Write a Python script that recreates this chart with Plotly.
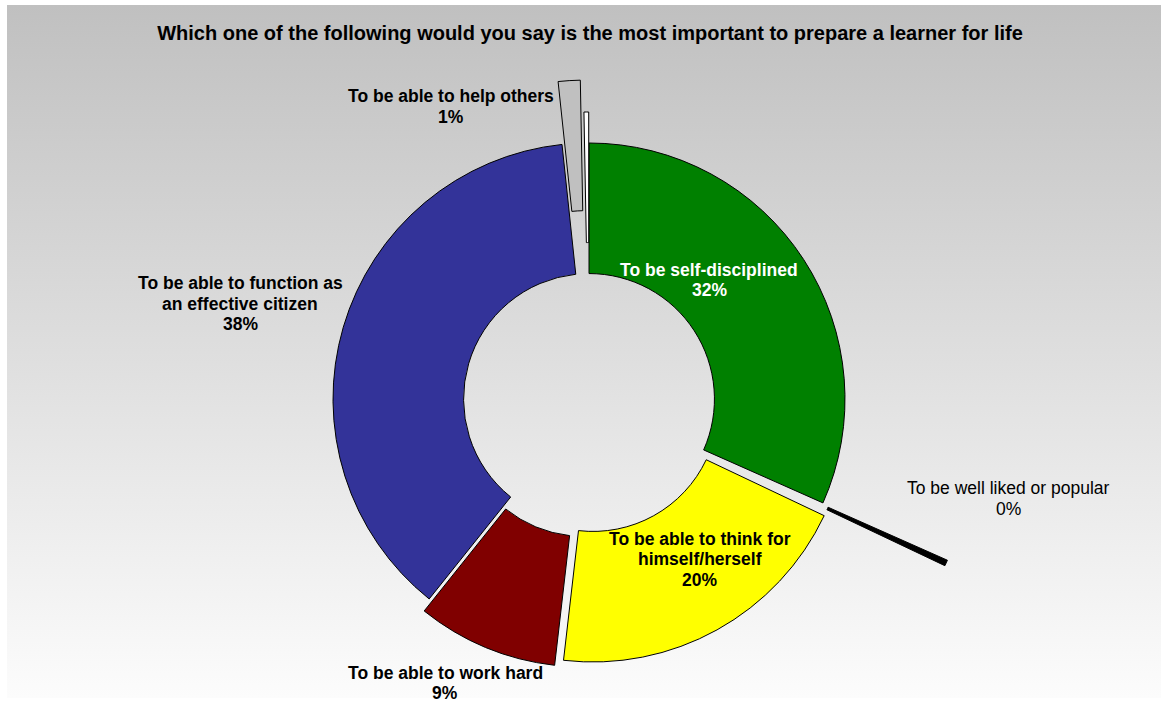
import math
import plotly.graph_objects as go

# Survey answers, clockwise from 12 o'clock
categories = [
    "To be self-disciplined",
    "To be well liked or popular",
    "To be able to think for\nhimself/herself",
    "To be able to work hard",
    "To be able to function as\nan effective citizen",
    "To be able to help others",
    "Other",
]
shares = [32, 0.4, 20, 9, 38, 1.4, 0.3]
show_label = [True, True, True, True, True, True, False]

# Styling
colors = ["#008000", "#000000", "#FFFF00", "#800000", "#333399", "#C0C0C0", "#FFFFFF"]
explode_px = [0, 137, 8, 13, 0, 63, 31]          # how far each slice is pulled out
label_pos = [(709, 280), (1008, 498.5), (700, 559), (445, 683), (240, 303.5), (451, 106.5), None]
label_color = ["#FFFFFF", "#000000", "#000000", "#000000", "#000000", "#000000", "#000000"]
label_bold = [True, False, True, True, True, True, True]
LINE_GAP = 20.5

W, H = 1161, 704
CX, CY, R = 589, 399, 256
HOLE = 0.49
FONT = "Liberation Sans, Arial, sans-serif"

fig = go.Figure()

# Gradient backdrop (grey at the top fading to white)
fig.add_trace(go.Scatter(
    x=[7, W, W, 7, 7], y=[H - 5, H - 5, H - 698, H - 698, H - 5],
    mode="none", fill="toself",
    fillgradient=dict(type="vertical", colorscale=[[0, "#fcfcfc"], [1, "#c0c0c0"]]),
    hoverinfo="skip", showlegend=False,
))

total = sum(shares)
cum = 0
mids = []
for s in shares:
    mids.append((cum + s / 2) / total * 360)
    cum += s

RING = R * (1 - HOLE)   # ring thickness in px


def pie_for(indices, pull, angle):
    """Ring layer showing only `indices`, with the ring pushed `pull` px outwards along `angle`.

    A pulled slice is drawn from its own (smaller if needed) pie whose centre sits further
    out, so that the slice keeps the ring thickness and still fits inside the figure.
    """
    a = math.radians(angle)
    ux, uy = math.sin(a), -math.cos(a)
    rb = R
    while rb > RING + 2:
        d = R + pull - rb
        cx, cy = CX + d * ux, CY + d * uy
        if cx - rb >= 0 and cx + rb <= W and cy - rb >= 0 and cy + rb <= H:
            break
        rb -= 1
    hole_b = 1 - RING / rb
    dom_x = [(cx - rb) / W, (cx + rb) / W]
    dom_y = [1 - (cy + rb) / H, 1 - (cy - rb) / H]
    fills = [colors[i] if i in indices else "rgba(0,0,0,0)" for i in range(len(shares))]
    widths = [1 if i in indices else 0 for i in range(len(shares))]
    return go.Pie(
        labels=[c.replace("\n", " ") for c in categories],
        values=shares,
        sort=False, direction="clockwise", rotation=0,
        hole=hole_b,
        marker=dict(colors=fills, line=dict(color="#000000", width=widths)),
        textinfo="none",
        hoverinfo="label+percent",
        domain=dict(x=dom_x, y=dom_y),
        showlegend=False,
    )


# Slices that stay in place
base = [i for i, d in enumerate(explode_px) if d == 0]
fig.add_trace(pie_for(base, 0, 0))
# Exploded slices, each in its own layer
for i, d in enumerate(explode_px):
    if d > 0:
        fig.add_trace(pie_for([i], d, mids[i]))

# Slice labels: category name lines followed by the rounded share
for i, cat in enumerate(categories):
    if not show_label[i] or label_pos[i] is None:
        continue
    lines = cat.split("\n") + [f"{round(shares[i])}%"]
    x, yc = label_pos[i]
    n = len(lines)
    for k, line in enumerate(lines):
        y = yc + (k - (n - 1) / 2) * LINE_GAP
        fig.add_annotation(
            x=x / W, y=1 - y / H, xref="paper", yref="paper",
            xanchor="center", yanchor="middle", showarrow=False,
            text=line,
            font=dict(family=FONT, size=17.5, color=label_color[i],
                      weight="bold" if label_bold[i] else "normal"),
        )

fig.update_layout(
    width=W, height=H,
    margin=dict(l=0, r=0, t=0, b=0),
    paper_bgcolor="#FFFFFF", plot_bgcolor="rgba(0,0,0,0)",
    showlegend=False,
    xaxis=dict(range=[0, W], visible=False, fixedrange=True, domain=[0, 1]),
    yaxis=dict(range=[0, H], visible=False, fixedrange=True, domain=[0, 1]),
    title=dict(
        text="Which one of the following would you say is the most important to prepare a learner for life",
        x=590 / W, y=1 - 33 / H, xanchor="center", yanchor="middle",
        font=dict(family=FONT, size=20, color="#000000", weight="bold"),
    ),
)

fig.write_html("out.html")
